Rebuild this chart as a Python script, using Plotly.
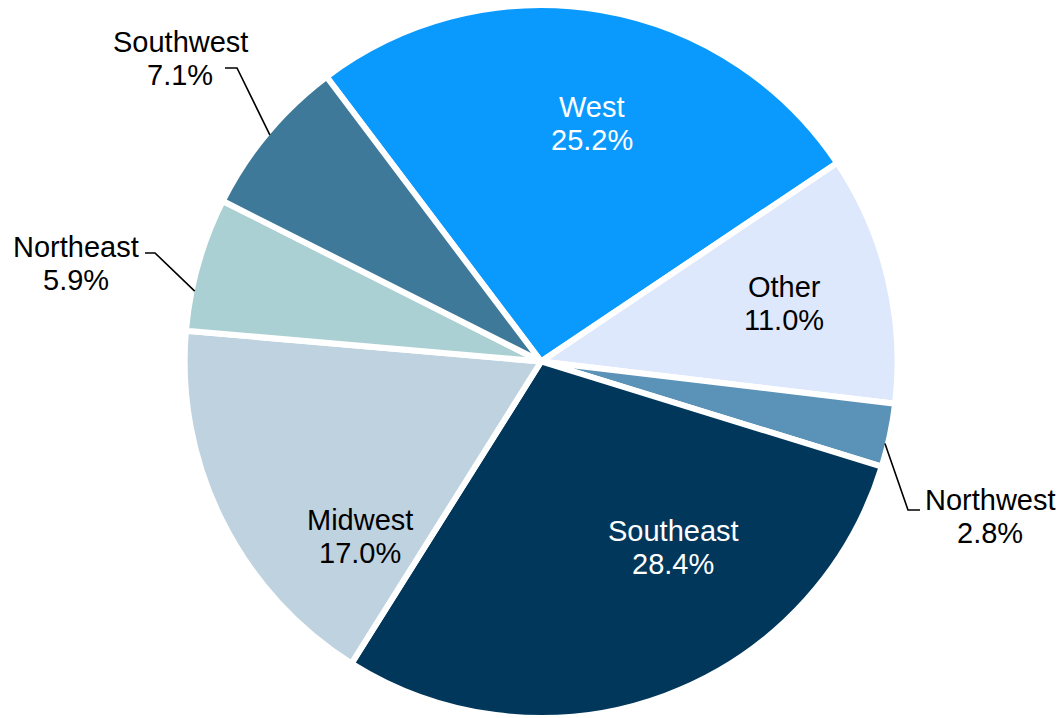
import plotly.graph_objects as go
import math

# Regional share of total, listed clockwise starting with West
regions = ["West", "Other", "Northwest", "Southeast", "Midwest", "Northeast", "Southwest"]
shares = [25.2, 11.0, 2.8, 28.4, 17.0, 5.9, 7.1]

# Styling
colors = ["#0A9AFE", "#DEE8FD", "#5B92B7", "#02375C", "#BFD2DF", "#AAD0D3", "#3E7999"]
text_colors = ["white", "black", "black", "white", "black", "black", "black"]
FONT = "Liberation Sans, Arial, sans-serif"
FONT_SIZE = 29
LINE_GAP = 33          # px between name line and value line
ROTATION = -37         # start angle of the first slice, degrees clockwise from 12 o'clock

W, H = 1061, 718
M_TOP, M_BOT = 5, 0
DOMAIN_X = [0.02, 1.0]

# Label placement (pixel centre of the name line) for every slice
label_pos = {
    "West": (592, 107),
    "Other": (784, 287),
    "Southeast": (673, 531),
    "Midwest": (360, 520),
    "Southwest": (180, 42),
    "Northeast": (76, 247),
    "Northwest": (990, 500),
}
# Callout leaders for the small slices: where on the slice arc the leader
# attaches (fraction of the slice sweep), elbow point and end point (px)
leaders = {
    "Southwest": (0.50, (237, 68), (225, 68)),
    "Northeast": (0.30, (155, 253), (145, 253)),
    "Northwest": (0.64, (908, 510), (920, 510)),
}

fig = go.Figure(
    go.Pie(
        labels=regions,
        values=shares,
        sort=False,
        direction="clockwise",
        rotation=ROTATION,
        marker=dict(colors=colors, line=dict(color="white", width=6)),
        textinfo="none",
        domain=dict(x=DOMAIN_X, y=[0, 1]),
        showlegend=False,
        hoverinfo="label+value",
    )
)

# Pie geometry in pixels (same rule plotly uses: radius = half the smaller domain side)
plot_h = H - M_TOP - M_BOT
cx = W * (DOMAIN_X[0] + DOMAIN_X[1]) / 2
cy = M_TOP + plot_h / 2
radius = min(W * (DOMAIN_X[1] - DOMAIN_X[0]), plot_h) / 2


def to_paper(px, py):
    return px / W, (H - M_BOT - py) / plot_h


# Slice angular extents derived from the values
total = sum(shares)
extent = {}
a = ROTATION
for name, v in zip(regions, shares):
    sweep = 360 * v / total
    extent[name] = (a, a + sweep)
    a += sweep

annotations = []
for name, v, tc in zip(regions, shares, text_colors):
    lx, ly = label_pos[name]
    for text, y in ((name, ly), (f"{v:.1f}%", ly + LINE_GAP)):
        xp, yp = to_paper(lx, y)
        annotations.append(
            dict(
                x=xp, y=yp, xref="paper", yref="paper",
                text=text, showarrow=False,
                xanchor="center", yanchor="middle",
                font=dict(family=FONT, size=FONT_SIZE, color=tc),
            )
        )

shapes = []
for name, (frac, elbow, end) in leaders.items():
    a0, a1 = extent[name]
    ang = math.radians(a0 + frac * (a1 - a0))
    r = radius - 3
    sx = cx + r * math.sin(ang)
    sy = cy - r * math.cos(ang)
    pts = [to_paper(sx, sy), to_paper(*elbow), to_paper(*end)]
    path = "M{},{} L{},{} L{},{}".format(*[c for p in pts for c in p])
    shapes.append(
        dict(type="path", path=path, xref="paper", yref="paper",
             line=dict(color="black", width=1.6))
    )

fig.update_layout(
    width=W,
    height=H,
    margin=dict(l=0, r=0, t=M_TOP, b=M_BOT, autoexpand=False),
    paper_bgcolor="white",
    plot_bgcolor="white",
    annotations=annotations,
    shapes=shapes,
)

fig.write_html("out.html")
